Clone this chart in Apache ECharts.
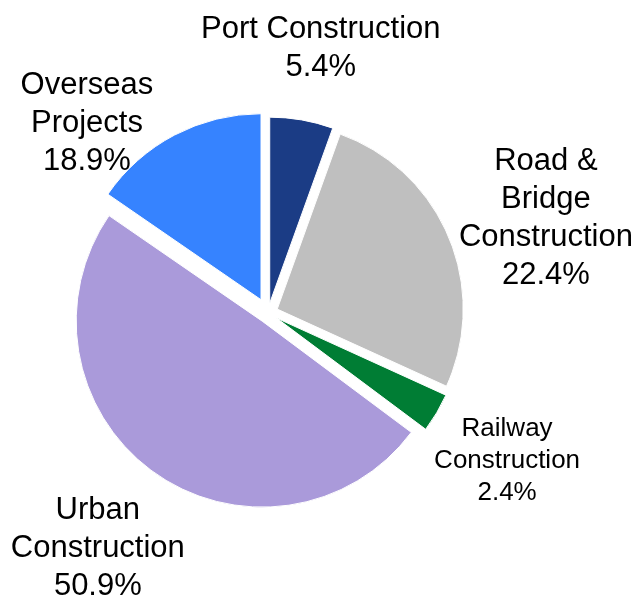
<!DOCTYPE html>
<html><head><meta charset="utf-8">
<script src="https://cdn.jsdelivr.net/npm/echarts@6/dist/echarts.min.js"></script>
<style>html,body{margin:0;padding:0;background:#fff}#c{width:639px;height:595px}</style>
</head><body><div id="c"></div>
<script>
// Category names (line breaks as printed in the reference)
const categories = ['Port Construction', 'Road &\nBridge\nConstruction', 'Railway\nConstruction', 'Urban\nConstruction', 'Overseas\nProjects'];
// Percentages printed on the labels
const labelPercents = [5.4, 22.4, 2.4, 50.9, 18.9];
// Slice sizes as drawn in the reference (measured from the slice angles)
const sliceShares = [5.5, 26.3, 3.4, 49.4, 15.4];
const colors = ['#1b3c85', '#bfbfbf', '#007d34', '#aa9ada', '#3683ff'];

// layout / style settings
const cx = 268, cy = 313, R = 186;
const explodeGroup = [0, 0, 0, 0, 1];      // which pull-out distance each slice uses
const explodeDist = [10, 15];
const labelAngle = [11.2, 70.9, 121.4, 216.1, 316.6];
const labelRadius = [271.7, 294.1, 280.1, 288.8, 263.5];
const labelShiftY = 2;
const labelFont = [31, 31, 26, 31, 31];
const labelLH = [38, 38, 32, 38, 38];

const chart = echarts.init(document.getElementById('c'), null, {renderer: 'canvas'});

function sliceSeries(g) {
  return {
    type: 'pie',
    center: [cx, cy],
    radius: [0, R],
    startAngle: 90,
    clockwise: true,
    silent: true,
    selectedMode: 'multiple',
    selectedOffset: explodeDist[g],
    emphasis: {disabled: true},
    label: {show: false},
    labelLine: {show: false},
    data: categories.map((name, i) => {
      const on = explodeGroup[i] === g;
      const st = on ? {color: colors[i], borderColor: '#ffffff', borderWidth: 1}
                    : {color: 'rgba(0,0,0,0)', borderWidth: 0};
      return {name: name, value: sliceShares[i], selected: true, itemStyle: st, select: {itemStyle: st}};
    })
  };
}

const labelSeries = {
  type: 'pie',
  center: [cx, cy],
  radius: [0, R],
  startAngle: 90,
  clockwise: true,
  silent: true,
  avoidLabelOverlap: false,
  emphasis: {disabled: true},
  itemStyle: {color: 'rgba(0,0,0,0)', borderWidth: 0},
  label: {
    show: true,
    position: 'outside',
    color: '#000000',
    fontFamily: 'Liberation Sans',
    formatter: p => p.name + '\n' + labelPercents[p.dataIndex].toFixed(1) + '%'
  },
  labelLine: {show: false},
  labelLayout: function (params) {
    const i = params.dataIndex;
    const a = labelAngle[i] * Math.PI / 180;
    return {
      x: cx + labelRadius[i] * Math.sin(a),
      y: cy - labelRadius[i] * Math.cos(a) + labelShiftY,
      align: 'center',
      verticalAlign: 'middle'
    };
  },
  data: categories.map((name, i) => ({
    name: name,
    value: sliceShares[i],
    label: {fontSize: labelFont[i], lineHeight: labelLH[i]}
  }))
};

chart.setOption({
  animation: false,
  backgroundColor: '#ffffff',
  series: [sliceSeries(0), sliceSeries(1), labelSeries]
});
</script></body></html>
